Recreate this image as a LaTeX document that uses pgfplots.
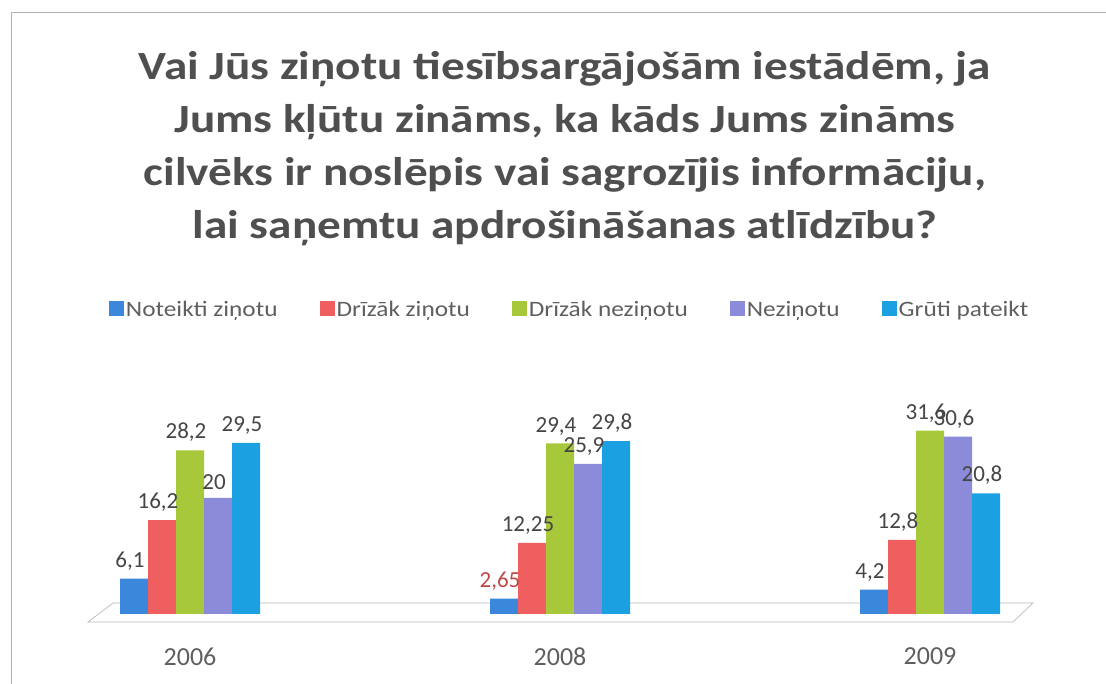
\documentclass[border=0pt]{standalone}
\usepackage{graphicx}
\usepackage{pgfplots}
\pgfplotsset{compat=1.18}
\usepackage{fontspec}
\setmainfont{Carlito}
\definecolor{cA}{HTML}{3B87DB}
\definecolor{cB}{HTML}{EF5F5F}
\definecolor{cC}{HTML}{A8C83C}
\definecolor{cD}{HTML}{8B8BD9}
\definecolor{cE}{HTML}{1BA1E2}
\definecolor{titlegray}{HTML}{4F4F4F}
\definecolor{txtgray}{HTML}{5F5F5F}
\definecolor{lblgray}{HTML}{454545}
\definecolor{lblred}{HTML}{C04848}
\newcommand{\legtxt}[1]{\scalebox{1.15}[1]{#1}}
\begin{document}
\begin{tikzpicture}[x=1pt,y=1pt]
\useasboundingbox (0,0) rectangle (1106,684);
% frame
\draw[gray!60, line width=0.8pt] (11,0) -- (11,672) -- (1106,672);
% title
\node[align=center, text=titlegray, font=\bfseries\fontsize{40}{53}\selectfont, xscale=1.18, transform shape] at (565,535)
 {Vai Jūs ziņotu tiesībsargājošām iestādēm, ja\\ Jums kļūtu zināms, ka kāds Jums zināms\\ cilvēks ir noslēpis vai sagrozījis informāciju,\\ lai saņemtu apdrošināšanas atlīdzību?};
% floor
\draw[gray!55, line width=0.7pt] (88,62) -- (1013,62) -- (1033,81) -- (113,81) -- cycle;
\begin{axis}[
  at={(79pt,70pt)}, anchor=south west,
  scale only axis, width=962pt, height=203pt,
  xmin=-0.3, xmax=2.3, ymin=0, ymax=35,
  clip=false,
  axis line style={draw=none},
  major tick length=0pt,
  ytick=\empty,
  xtick={0,1,2}, xticklabels={2006,2008,2009},
  xticklabel style={font=\fontsize{26}{26}\selectfont, text=txtgray, yshift=-30pt},
  ybar=0pt, bar width=28pt,
  nodes near coords,
  every node near coord/.append style={font=\fontsize{23}{23}\selectfont, text=lblgray, anchor=south, yshift=5pt, xshift=-4pt},
  /pgf/number format/.cd, use comma, fixed, precision=2, assume math mode=true,
  /pgfplots/.cd,
  legend columns=5,
  legend style={at={(0.51,1.5)}, anchor=center, draw=none, fill=none,
     font=\fontsize{22}{22}\selectfont, text=txtgray,
     /tikz/every even column/.append style={column sep=40pt}},
  legend image code/.code={\fill[#1] (0pt,-7pt) rectangle (15pt,8pt);},
]
\addplot[draw=none, fill=cA,
  visualization depends on={x \as \myx},
  nodes near coords={\pgfmathparse{abs(\myx-1)<0.1}\ifdim\pgfmathresult pt>0.5pt\color{lblred}\fi\pgfmathprintnumber{\pgfplotspointmeta}}]
  coordinates {(0,6.1) (1,2.65) (2,4.2)};
\addplot[draw=none, fill=cB]
  coordinates {(0,16.2) (1,12.25) (2,12.8)};
\addplot[draw=none, fill=cC]
  coordinates {(0,28.2) (1,29.4) (2,31.6)};
\addplot[draw=none, fill=cD]
  coordinates {(0,20) (1,25.9) (2,30.6)};
\addplot[draw=none, fill=cE]
  coordinates {(0,29.5) (1,29.8) (2,20.8)};
\legend{\legtxt{Noteikti ziņotu}, \legtxt{Drīzāk ziņotu}, \legtxt{Drīzāk neziņotu}, \legtxt{Neziņotu}, \legtxt{Grūti pateikt}}
\end{axis}
\end{tikzpicture}
\end{document}
